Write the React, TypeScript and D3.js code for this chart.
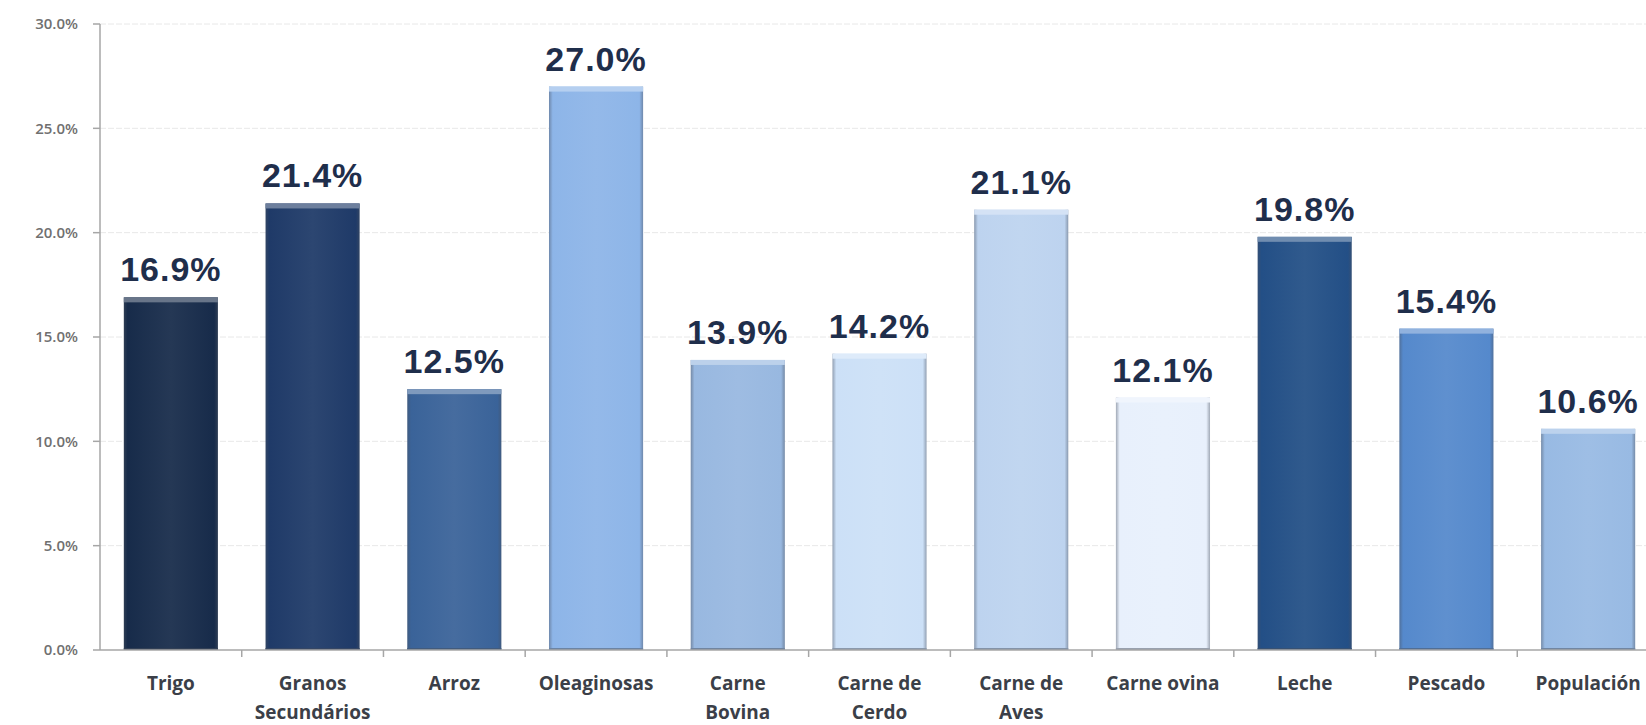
import React from "react";
import * as d3 from "d3";

const categories = [
  "Trigo",
  "Granos|Secundários",
  "Arroz",
  "Oleaginosas",
  "Carne|Bovina",
  "Carne de|Cerdo",
  "Carne de|Aves",
  "Carne ovina",
  "Leche",
  "Pescado",
  "Populación",
];
const values = [16.9, 21.4, 12.5, 27.0, 13.9, 14.2, 21.1, 12.1, 19.8, 15.4, 10.6];
const barColors = [
  "#172b4a",
  "#1f3a68",
  "#3a6399",
  "#8db5e8",
  "#98b8e0",
  "#cce0f7",
  "#bdd3ef",
  "#e8f0fc",
  "#234f86",
  "#5589cc",
  "#98bae3",
];
const yTicks = [0, 5, 10, 15, 20, 25, 30];

const width = 1646;
const height = 725;
const left = 100;
const right = 1659;
const top = 24;
const bottom = 650;

const App = () => {
  const x = d3
    .scaleBand()
    .domain(categories)
    .range([left, right])
    .paddingInner(0.336)
    .paddingOuter(0.168);
  const y = d3.scaleLinear().domain([0, 30]).range([bottom, top]);
  const step = x.step();

  return (
    <div style={{ position: "absolute", left: 0, top: 0 }}>
      <svg width={width} height={height} style={{ display: "block", background: "#fff" }}>
        <defs>
          {categories.map((c, i) => {
            const base = barColors[i];
            const edge = d3.interpolateRgb(base, "#4a5260")(0.45);
            const mid = d3.interpolateRgb(base, "#ffffff")(0.06);
            return (
              <linearGradient key={c} id={`g${i}`} x1="0" x2="1" y1="0" y2="0">
                <stop offset="0" stopColor={edge} />
                <stop offset="0.04" stopColor={base} />
                <stop offset="0.5" stopColor={mid} />
                <stop offset="0.96" stopColor={base} />
                <stop offset="1" stopColor={edge} />
              </linearGradient>
            );
          })}
        </defs>

        {/* grid */}
        {yTicks.slice(1).map((t) => (
          <line
            key={t}
            x1={left}
            x2={width}
            y1={y(t)}
            y2={y(t)}
            stroke="#e8e8e8"
            strokeWidth={1}
            strokeDasharray="6 2"
          />
        ))}

        {/* y axis */}
        <line x1={left} x2={left} y1={top} y2={bottom} stroke="#a6a6a6" strokeWidth={1.5} />
        {yTicks.map((t) => (
          <g key={t}>
            <line x1={left - 7} x2={left} y1={y(t)} y2={y(t)} stroke="#a6a6a6" strokeWidth={1.5} />
            <text
              x={78}
              y={y(t)}
              dy="0.35em"
              textAnchor="end"
              fontFamily="'Open Sans', sans-serif"
              fontWeight={600}
              fontSize={15}
              fill="#707070"
            >
              {t.toFixed(1)}%
            </text>
          </g>
        ))}

        {/* bars */}
        {categories.map((c, i) => {
          const bx = x(c) as number;
          const bw = x.bandwidth();
          const by = y(values[i]);
          const base = barColors[i];
          const light = d3.interpolateRgb(base, "#ffffff")(0.35);
          const edge = d3.interpolateRgb(base, "#4a5260")(0.5);
          return (
            <g key={c}>
              <rect x={bx} y={by} width={bw} height={bottom - by} fill={`url(#g${i})`} />
              <rect x={bx} y={by} width={bw} height={5} fill={light} />
              <line x1={bx} x2={bx + bw} y1={bottom - 1} y2={bottom - 1} stroke={edge} strokeWidth={2} />
              <text
                x={bx + bw / 2}
                y={by - 16}
                textAnchor="middle"
                fontFamily="'Liberation Sans', Arial, sans-serif"
                fontWeight={700}
                fontSize={34}
                letterSpacing={1}
                fill="#1f2e4b"
              >
                {values[i].toFixed(1)}%
              </text>
            </g>
          );
        })}

        {/* x axis */}
        <line x1={left} x2={right} y1={bottom} y2={bottom} stroke="#a6a6a6" strokeWidth={1.5} />
        {categories.map((c, i) => (
          <line
            key={c}
            x1={left + step * (i + 1)}
            x2={left + step * (i + 1)}
            y1={bottom}
            y2={bottom + 7}
            stroke="#a6a6a6"
            strokeWidth={1.5}
          />
        ))}
        {categories.map((c) => {
          const cx = (x(c) as number) + x.bandwidth() / 2;
          return (
            <text
              key={c}
              x={cx}
              textAnchor="middle"
              fontFamily="'Open Sans', sans-serif"
              fontWeight={700}
              fontSize={19}
              fill="#3b3f48"
            >
              {c.split("|").map((line, k) => (
                <tspan key={k} x={cx} y={690 + k * 29}>
                  {line}
                </tspan>
              ))}
            </text>
          );
        })}
      </svg>
    </div>
  );
};

export default App;
